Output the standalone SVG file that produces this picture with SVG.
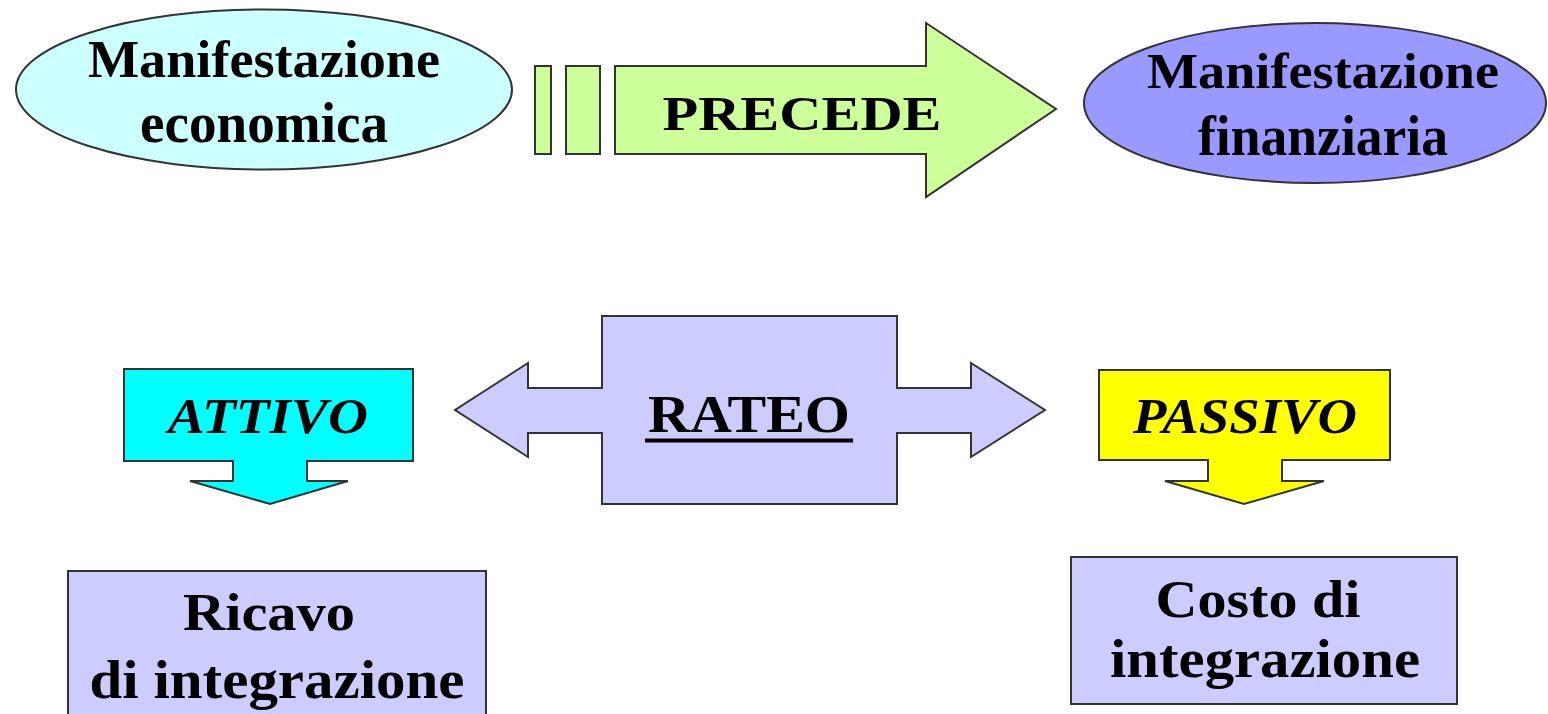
<svg xmlns="http://www.w3.org/2000/svg" width="1548" height="714" viewBox="0 0 1548 714">
<style>
.s{stroke:#333;stroke-width:2}
.t{font-family:"Liberation Serif","Times New Roman",serif;font-weight:bold;fill:#000;text-anchor:middle}
.i{font-style:italic}
</style>
<rect width="1548" height="714" fill="#fff"/>
<g id="econ">
<ellipse class="s" cx="264" cy="89.5" rx="248" ry="80" fill="#CCFFFF"/>
<text class="t" x="264" y="77" font-size="52" textLength="352" lengthAdjust="spacingAndGlyphs">Manifestazione</text>
<text class="t" x="264" y="142" font-size="58" textLength="248" lengthAdjust="spacingAndGlyphs">economica</text>
</g>
<g id="precede">
<rect class="s" x="535" y="66" width="16" height="88" fill="#CCFF99"/>
<rect class="s" x="566" y="66" width="34" height="88" fill="#CCFF99"/>
<polygon class="s" points="615,66 926,66 926,23 1056,109 926,197 926,154 615,154" fill="#CCFF99"/>
<text class="t" x="802" y="130" font-size="49" textLength="279" lengthAdjust="spacingAndGlyphs">PRECEDE</text>
</g>
<g id="fin">
<ellipse class="s" cx="1315" cy="103" rx="231" ry="80" fill="#9999FF"/>
<text class="t" x="1323" y="88" font-size="51" textLength="352" lengthAdjust="spacingAndGlyphs">Manifestazione</text>
<text class="t" x="1323" y="155" font-size="56" textLength="250" lengthAdjust="spacingAndGlyphs">finanziaria</text>
</g>
<g id="rateo">
<polygon class="s" points="602,316 897,316 897,388 971,388 971,363 1045,410 971,457 971,433 897,433 897,504 602,504 602,433 528,433 528,457 455,410 528,363 528,388 602,388" fill="#CCCCFF"/>
<text class="t" x="749" y="432" font-size="53" textLength="202" lengthAdjust="spacingAndGlyphs">RATEO</text>
<line x1="645" y1="440.5" x2="853" y2="440.5" stroke="#000" stroke-width="4"/>
</g>
<g id="attivo">
<polygon class="s" points="124,369 413,369 413,461 307,461 307,481 348,481 270,504 190,481 233,481 233,461 124,461" fill="#00FFFF"/>
<text class="t i" x="268" y="433" font-size="50" textLength="200" lengthAdjust="spacingAndGlyphs">ATTIVO</text>
</g>
<g id="passivo">
<polygon class="s" points="1099,370 1390,370 1390,460 1282,460 1282,481 1324,481 1244,504 1165,481 1208,481 1208,460 1099,460" fill="#FFFF00"/>
<text class="t i" x="1245" y="433" font-size="50" textLength="224" lengthAdjust="spacingAndGlyphs">PASSIVO</text>
</g>
<g id="ricavo">
<rect class="s" x="68" y="571" width="418" height="160" fill="#CCCCFF"/>
<text class="t" x="269" y="630" font-size="53" textLength="172" lengthAdjust="spacingAndGlyphs">Ricavo</text>
<text class="t" x="277" y="698" font-size="54" textLength="375" lengthAdjust="spacingAndGlyphs">di integrazione</text>
</g>
<g id="costo">
<rect class="s" x="1071" y="557" width="386" height="147" fill="#CCCCFF"/>
<text class="t" x="1258" y="617" font-size="52" textLength="205" lengthAdjust="spacingAndGlyphs">Costo di</text>
<text class="t" x="1265" y="677" font-size="54" textLength="310" lengthAdjust="spacingAndGlyphs">integrazione</text>
</g>
<g id="connectors"></g>
</svg>
